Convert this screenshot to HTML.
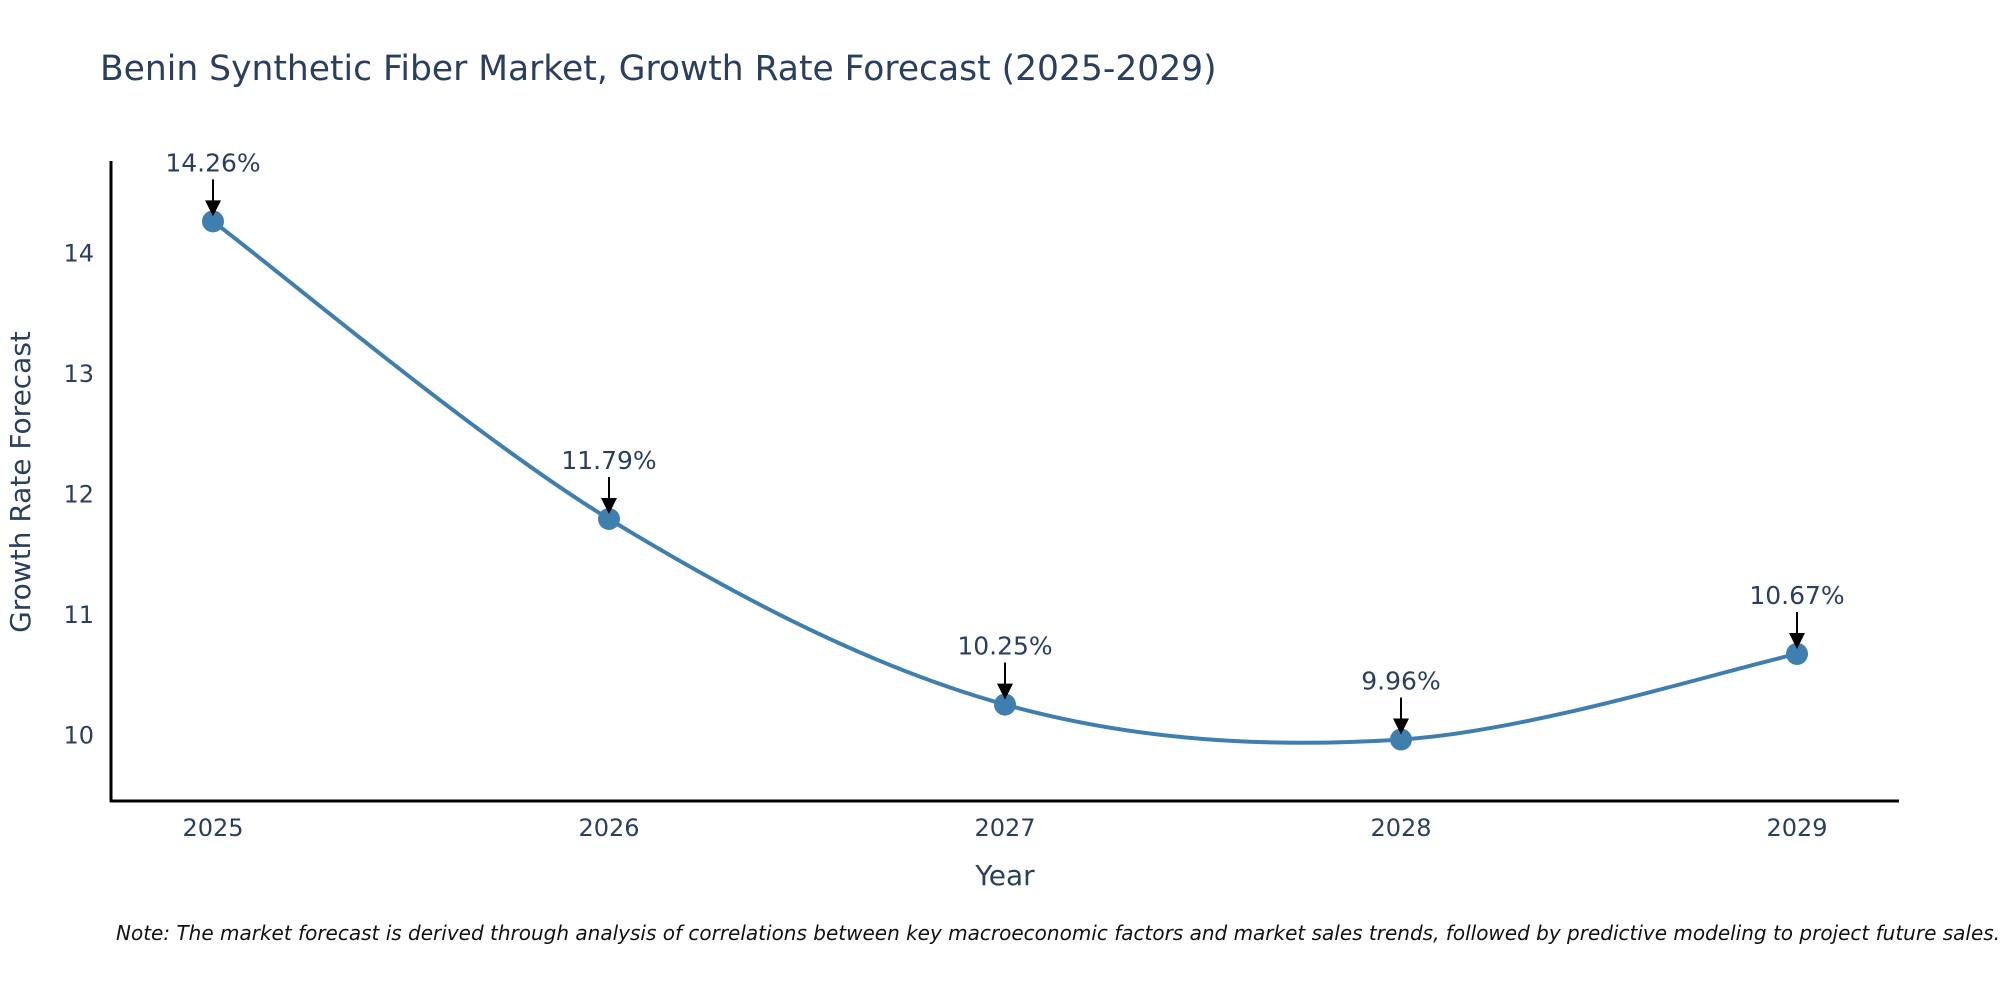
<!DOCTYPE html>
<html><head><meta charset="utf-8"><style>
body{margin:0;background:#fff;}
svg{display:block;font-family:"DejaVu Sans","Liberation Sans",sans-serif;}
</style></head><body>
<svg id="chart" width="2000" height="1000" viewBox="0 0 2000 1000">
<text x="100" y="80" font-size="34.5" fill="#2a3f5f">Benin Synthetic Fiber Market, Growth Rate Forecast (2025-2029)</text>
<g id="plot"></g>
<text x="30" y="482" font-size="28" fill="#2a3f5f" text-anchor="middle" transform="rotate(-90 30 482)">Growth Rate Forecast</text>
<text x="1005" y="885" font-size="28" fill="#2a3f5f" text-anchor="middle">Year</text>
<text x="116" y="940" font-size="20" font-style="italic" fill="#111">Note: The market forecast is derived through analysis of correlations between key macroeconomic factors and market sales trends, followed by predictive modeling to project future sales.</text>
</svg>
<script>
const years = [2025, 2026, 2027, 2028, 2029];
const values = [14.26, 11.79, 10.25, 9.96, 10.67];
const labels = ["14.26%", "11.79%", "10.25%", "9.96%", "10.67%"];
const yTicks = [10, 11, 12, 13, 14];

const NS = "http://www.w3.org/2000/svg";
const g = document.getElementById('plot');
const xScale = v => 213 + (v - 2025) * 396;
const yScale = v => 734.7 - (v - 10) * 120.5;
function mk(tag, attrs, parent){const e=document.createElementNS(NS,tag);for(const k in attrs)e.setAttribute(k,attrs[k]);(parent||g).appendChild(e);return e;}

const ya = mk('line',{x1:111,y1:161,x2:111,y2:802,stroke:'#000','stroke-width':3});


const xa = mk('line',{x1:110,y1:801,x2:1899,y2:801,stroke:'#000','stroke-width':3});



yTicks.forEach(t=>{
  const e = mk('text',{x:94,y:yScale(t)+9,'font-size':24,fill:'#2a3f5f','text-anchor':'end'});
  e.textContent = t;
  
  
});
years.forEach(y=>{
  const e = mk('text',{x:xScale(y),y:836,'font-size':24,fill:'#2a3f5f','text-anchor':'middle'});
  e.textContent = y;
  
  
});

const pts = years.map((y,i)=>[xScale(y), yScale(values[i])]);
let d = `M${pts[0][0]},${pts[0][1]}`;
for(let i=0;i<pts.length-1;i++){
  const p0=pts[Math.max(0,i-1)],p1=pts[i],p2=pts[i+1],p3=pts[Math.min(pts.length-1,i+2)];
  const c1=[p1[0]+(p2[0]-p0[0])/6,p1[1]+(p2[1]-p0[1])/6];
  const c2=[p2[0]-(p3[0]-p1[0])/6,p2[1]-(p3[1]-p1[1])/6];
  d+=` C${c1[0]},${c1[1]} ${c2[0]},${c2[1]} ${p2[0]},${p2[1]}`;
}
const line = mk('path',{d:d,fill:'none',stroke:'#3f7fb0','stroke-width':4});



pts.forEach((p,i)=>{
  const c = mk('circle',{cx:p[0],cy:p[1],r:11,fill:'#3f7fb0'});
  
  
  const a = mk('line',{x1:p[0],y1:p[1]-42,x2:p[0],y2:p[1]-18,stroke:'#000','stroke-width':2});
  
  
  const h = mk('polygon',{points:`${p[0]-8},${p[1]-21} ${p[0]+8},${p[1]-21} ${p[0]},${p[1]-5}`,fill:'#000'});
  
  
  const t = mk('text',{x:p[0],y:p[1]-50,'font-size':25,fill:'#2a3f5f','text-anchor':'middle'});
  t.textContent = labels[i];
  
  
});
</script>
</body></html>
